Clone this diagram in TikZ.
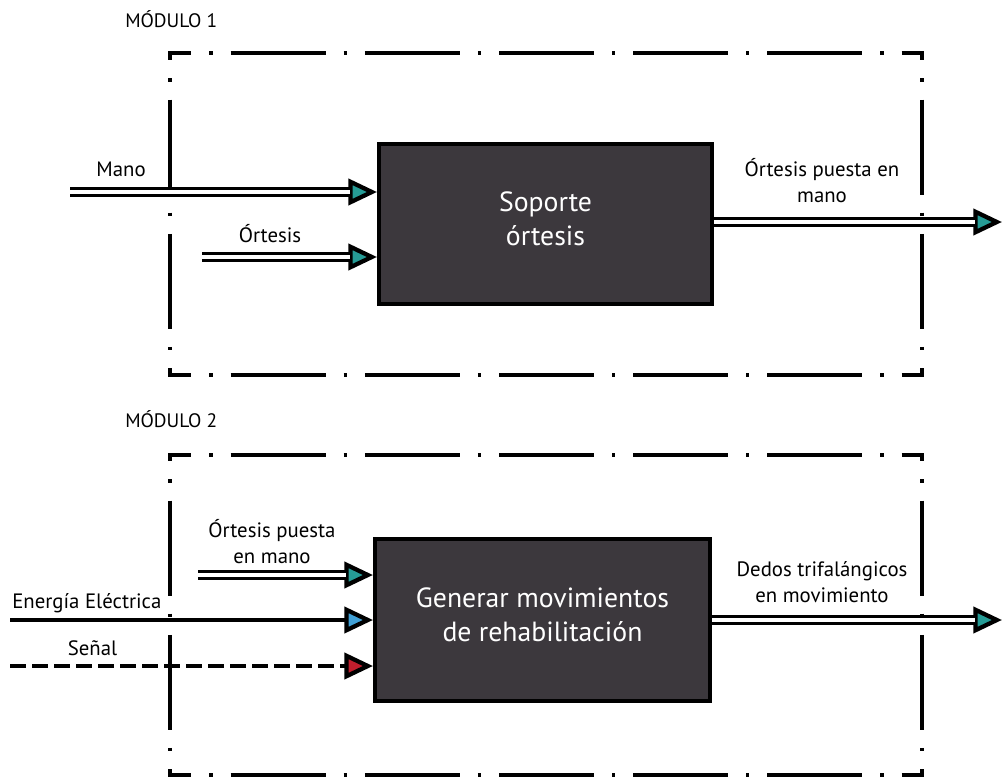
\documentclass[tikz,border=0pt]{standalone}
\usepackage{fontspec}
\setmainfont{PT Sans}
\usetikzlibrary{arrows.meta}
\definecolor{boxfill}{RGB}{60,56,61}
\definecolor{tipteal}{RGB}{38,156,150}
\definecolor{tipblue}{RGB}{64,160,214}
\definecolor{tipred}{RGB}{192,30,45}
\newcommand{\mylbl}{\fontsize{15.6pt}{19.5pt}\selectfont}
\newcommand{\mybox}{\fontsize{20.8pt}{25.5pt}\selectfont}
\newcommand{\mymod}{\fontsize{14.6pt}{16pt}\selectfont}
\begin{document}
\begin{tikzpicture}[x=0.75pt,y=-0.75pt,
  framebase/.style={line width=2.4pt, shorten <=-1.2pt, shorten >=-1.2pt},
  hside/.style={framebase, dash pattern=on 71.25pt off 13.5pt on 2.4pt off 13.5pt, dash phase=54pt},
  vsideA/.style={framebase, dash pattern=on 71.25pt off 13.5pt on 2.4pt off 13.5pt, dash phase=64.5pt},
  vsideB/.style={framebase, dash pattern=on 71.25pt off 13.5pt on 2.4pt off 13.5pt, dash phase=65.25pt},
  blk/.style={draw=black, line width=3pt, fill=boxfill, text=white, font=\mybox, align=center, inner sep=0pt, text depth=7.5pt},
  lbl/.style={font=\mylbl, inner sep=0pt, align=center},
  modlbl/.style={font=\mymod, inner sep=0pt},
  dblflow/.style={draw=black, line width=7.6pt,
     -{Triangle[length=21.5pt, width=19.5pt, line width=3.2pt, fill=#1]},
     postaction={draw=white, line width=2.7pt, -, shorten >=20pt}},
  sglflow/.style={draw=black, line width=2.7pt,
     -{Triangle[length=21.5pt, width=19.5pt, line width=3.2pt, fill=#1]}},
  dshflow/.style={sglflow=#1, dash pattern=on 12pt off 4.5pt}
]
\useasboundingbox (0,0) rectangle (1003,778);

% module frames
\coordinate (m1a) at (170,53);
\coordinate (m1b) at (922,53);
\coordinate (m1c) at (922,375);
\coordinate (m1d) at (170,375);
\coordinate (m2a) at (170,455);
\coordinate (m2b) at (922,455);
\coordinate (m2c) at (922,775);
\coordinate (m2d) at (170,775);
\draw[hside] (m1a) -- (m1b);
\draw[hside] (m1d) -- (m1c);
\draw[vsideA] (m1a) -- (m1d);
\draw[vsideA] (m1b) -- (m1c);
\draw[hside] (m2a) -- (m2b);
\draw[hside] (m2d) -- (m2c);
\draw[vsideB] (m2a) -- (m2d);
\draw[vsideB] (m2b) -- (m2c);

\node[modlbl, anchor=base west] (mod1) at (125,27) {MÓDULO 1};
\node[modlbl, anchor=base west] (mod2) at (125,427) {MÓDULO 2};

% blocks
\node[blk, minimum width=249.75pt, minimum height=120pt] (sop) at (545.5,224) {Soporte\\órtesis};
\node[blk, minimum width=251.25pt, minimum height=121.5pt] (gen) at (542.5,620) {Generar movimientos\\de rehabilitación};

% free ends
\coordinate (manoS) at (70,192);
\coordinate (ortS) at (202,257);
\coordinate (out1E) at (1002,222);
\coordinate (ort2S) at (198,575);
\coordinate (enerS) at (10,620);
\coordinate (senS) at (10,666);
\coordinate (out2E) at (1002,620);

% connectors
\draw[dblflow=tipteal] (manoS) -- (manoS -| sop.west);
\draw[dblflow=tipteal] (ortS) -- (ortS -| sop.west);
\draw[dblflow=tipteal] (sop.east |- out1E) -- (out1E);
\draw[dblflow=tipteal] (ort2S) -- (ort2S -| gen.west);
\draw[sglflow=tipblue] (enerS) -- (enerS -| gen.west);
\draw[dshflow=tipred] (senS) -- (senS -| gen.west);
\draw[dblflow=tipteal] (gen.east |- out2E) -- (out2E);

% labels
\node[lbl, anchor=base] (lmano) at (121,176) {Mano};
\node[lbl, anchor=base] (lort) at (270,242) {Órtesis};
\node[lbl, anchor=base] (lout1) at (822,202) {Órtesis puesta en\\mano};
\node[lbl, anchor=base] (lort2) at (272,563) {Órtesis puesta\\en mano};
\node[lbl, anchor=base west] (lener) at (12,608) {Energía Eléctrica};
\node[lbl, anchor=base] (lsen) at (92.5,655) {Señal};
\node[lbl, anchor=base] (lout2) at (822,602) {Dedos trifalángicos\\en movimiento};
\end{tikzpicture}
\end{document}
